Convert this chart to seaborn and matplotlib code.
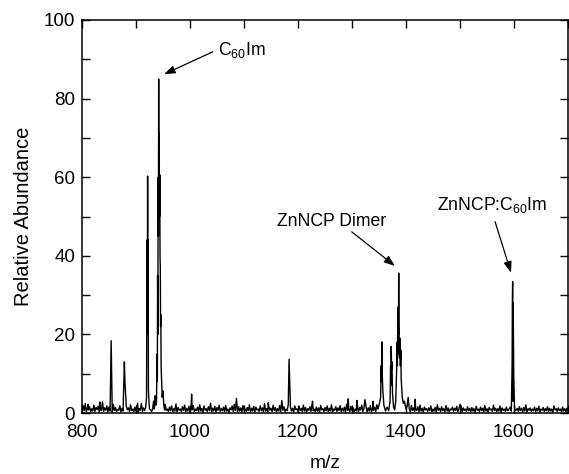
import numpy as np
import pandas as pd
import matplotlib
matplotlib.use("Agg")
import matplotlib.pyplot as plt
from matplotlib.ticker import MultipleLocator
import seaborn as sns

# Background chemical noise, one reading every 2 m/z from 800 to 1700
noise_start = 800
noise_step = 2
noise_abundance = [
    0.3, 1.9, 0.6, 2.4, 0.2, 1.2, 0.8, 1.6, 0.3, 1.1, 0.5, 2.0, 0.4, 1.4, 0.9, 1.7, 0.2, 1.0, 0.6, 2.8,
    0.4, 1.3, 0.7, 1.8, 0.3, 1.5, 0.5, 1.1, 0.2, 2.2, 0.6, 1.4, 0.4, 0.9, 0.7, 1.9, 0.3, 1.2, 0.5, 1.6,
    0.2, 1.7, 0.8, 1.3, 0.4, 2.1, 0.6, 1.0, 0.3, 1.5, 0.5, 1.8, 0.2, 1.1, 0.7, 2.4, 0.4, 1.3, 0.6, 1.0,
    0.3, 1.6, 0.5, 2.0, 0.2, 1.2, 0.8, 1.4, 0.4, 1.9, 0.6, 1.1, 0.3, 1.7, 0.5, 1.3, 0.2, 2.2, 0.7, 1.0,
    0.4, 1.5, 0.6, 1.8, 0.3, 1.1, 0.5, 2.3, 0.2, 1.4, 0.7, 1.0, 0.4, 1.6, 0.6, 2.0, 0.3, 1.2, 0.5, 1.7,
    0.2, 1.3, 0.8, 1.9, 0.4, 1.0, 0.6, 1.5, 0.3, 2.1, 0.5, 1.2, 0.2, 1.8, 0.7, 1.1, 0.4, 1.6, 0.6, 2.5,
    0.3, 1.2, 0.5, 1.7, 0.2, 1.4, 0.7, 2.0, 0.4, 1.1, 0.6, 1.5, 0.3, 1.9, 0.5, 1.0, 0.2, 1.3, 0.8, 1.8,
    0.4, 2.2, 0.6, 1.1, 0.3, 1.6, 0.5, 1.3, 0.2, 1.9, 0.7, 1.0, 0.4, 1.4, 0.6, 2.1, 0.3, 1.2, 0.5, 1.7,
    0.2, 1.5, 0.8, 1.0, 0.4, 1.8, 0.6, 1.3, 0.3, 2.4, 0.5, 1.1, 0.2, 1.6, 0.7, 1.2, 0.4, 2.0, 0.6, 1.4,
    0.3, 1.1, 0.5, 1.9, 0.2, 1.3, 0.7, 1.6, 0.4, 1.0, 0.6, 2.2, 0.3, 1.5, 0.5, 1.2, 0.2, 1.8, 0.8, 1.1,
    0.4, 1.7, 0.6, 1.2, 0.3, 2.0, 0.5, 1.4, 0.2, 1.1, 0.7, 1.6, 0.4, 2.3, 0.6, 1.0, 0.3, 1.5, 0.5, 1.3,
    0.2, 1.9, 0.8, 1.1, 0.4, 1.4, 0.6, 1.8, 0.3, 1.2, 0.5, 2.1, 0.2, 1.0, 0.7, 1.6, 0.4, 1.3, 0.6, 1.9,
    0.3, 1.2, 0.5, 1.5, 0.2, 2.2, 0.7, 1.1, 0.4, 1.7, 0.6, 1.3, 0.3, 1.0, 0.5, 1.8, 0.2, 1.4, 0.8, 2.0,
    0.4, 1.1, 0.6, 1.6, 0.3, 1.3, 0.5, 1.9, 0.2, 1.2, 0.7, 1.5, 0.4, 2.1, 0.6, 1.0, 0.3, 1.7, 0.5, 1.2,
    0.2, 1.4, 0.8, 2.0, 0.4, 1.1, 0.6, 1.5, 0.3, 1.8, 0.5, 1.2, 0.2, 1.6, 0.7, 2.2, 0.4, 1.0, 0.6, 1.3,
    0.3, 1.7, 0.5, 1.1, 0.2, 1.9, 0.7, 1.3, 0.4, 1.0, 0.6, 1.6, 0.3, 2.0, 0.5, 1.2, 0.2, 1.5, 0.8, 1.1,
    0.4, 1.3, 0.6, 1.8, 0.3, 1.0, 0.5, 1.4, 0.2, 2.1, 0.7, 1.2, 0.4, 1.6, 0.6, 1.1, 0.3, 1.9, 0.5, 1.3,
    0.2, 1.0, 0.8, 1.5, 0.4, 1.2, 0.6, 1.7, 0.3, 1.1, 0.5, 1.8, 0.2, 1.3, 0.7, 1.0, 0.4, 1.6, 0.6, 1.2,
    0.3, 1.4, 0.5, 1.1, 0.2, 1.7, 0.7, 1.0, 0.4, 1.5, 0.6, 1.2, 0.3, 1.9, 0.5, 1.1, 0.2, 1.4, 0.8, 1.0,
    0.4, 1.6, 0.6, 1.2, 0.3, 1.1, 0.5, 1.8, 0.2, 1.3, 0.7, 1.0, 0.4, 1.5, 0.6, 1.7, 0.3, 1.2, 0.5, 1.1,
    0.2, 1.3, 0.8, 1.0, 0.4, 1.6, 0.6, 1.2, 0.3, 1.4, 0.5, 1.9, 0.2, 1.1, 0.7, 1.3, 0.4, 1.0, 0.6, 1.5,
    0.3, 1.2, 0.5, 1.7, 0.2, 1.0, 0.7, 1.4, 0.4, 1.1, 0.6, 1.6, 0.3, 1.2, 0.5, 1.0, 0.2, 1.8, 0.8, 1.1,
    0.4, 1.3, 0.6, 1.0, 0.3, 1.5, 0.5, 1.1, 0.2, 1.2, 0.6,
]

# Narrow isolated signals on top of the noise
spike_mz = [811, 833, 854, 878.5, 879.5, 903, 1003, 1086, 1145, 1170, 1183.5,
            1184.5, 1227, 1293, 1309, 1324, 1339, 1404, 1417, 1500, 1562, 1622]
spike_abundance = [2.2, 2.8, 18.4, 13.0, 8.0, 2.5, 4.8, 3.7, 2.6, 3.2, 13.7,
                   9.0, 3.0, 3.6, 3.2, 3.4, 3.0, 4.0, 3.5, 2.2, 2.0, 2.1]

# C60Im cluster
c60im_mz = [916, 918, 919.5, 920, 920.5, 921, 921.5, 922, 922.5, 923, 924, 925,
            927, 929, 931, 932.5, 934, 935.5, 937, 938, 939, 939.5, 940, 940.5,
            941, 941.5, 942, 942.5, 943, 943.5, 944, 944.5, 945, 945.5, 946,
            946.5, 947.5, 948.5, 950, 951.5, 953]
c60im_abundance = [0.6, 1.5, 4.0, 28.0, 44.0, 20.0, 60.3, 28.0, 44.0, 6.0, 3.0,
                   1.0, 0.8, 0.4, 1.2, 3.0, 1.0, 4.4, 2.0, 3.0, 15.0, 8.0, 35.0,
                   20.0, 60.0, 45.0, 85.0, 55.0, 71.2, 50.0, 60.6, 40.0, 37.0,
                   22.0, 25.0, 12.0, 8.0, 4.0, 5.6, 2.0, 0.8]

# ZnNCP dimer cluster
dimer_mz = [1348, 1351, 1353, 1354, 1354.5, 1355, 1355.5, 1356, 1357, 1359,
            1362, 1365, 1368, 1370.5, 1371.5, 1372, 1372.5, 1373.5, 1374,
            1375, 1377, 1379, 1381, 1382.5, 1383.5, 1384, 1384.5, 1385, 1385.5,
            1386, 1386.5, 1387, 1388, 1389, 1389.5, 1390.5, 1391, 1393, 1395,
            1397, 1400]
dimer_abundance = [1.0, 2.5, 4.0, 12.0, 8.0, 15.0, 18.1, 10.0, 6.0, 2.0, 0.5,
                   1.5, 0.6, 3.0, 12.0, 7.0, 16.9, 11.0, 13.0, 5.0, 1.5, 0.8,
                   3.0, 10.0, 18.0, 12.0, 20.0, 15.0, 27.0, 20.0, 35.6, 22.0,
                   14.0, 19.0, 12.0, 16.0, 9.0, 4.0, 2.5, 3.0, 1.0]

# ZnNCP:C60Im complex
complex_mz = [1590, 1593, 1595, 1596.5, 1597, 1597.5, 1598, 1598.5, 1599,
              1599.5, 1601, 1603, 1606]
complex_abundance = [0.8, 1.5, 0.5, 12.0, 28.0, 33.4, 3.0, 28.0, 20.0, 10.0,
                     1.0, 0.6, 1.2]

# Peak labels: text, arrow tip (m/z, abundance), arrow tail, text anchor
label_text = ["C$_{\\mathrm{60}}$Im", "ZnNCP Dimer", "ZnNCP:C$_{\\mathrm{60}}$Im"]
label_tip = [(951.9, 86.2), (1379.7, 37.4), (1594.5, 35.7)]
label_tail = [(1042, 91.9), (1299.5, 46.1), (1564.9, 48.7)]
label_pos = [(1052, 91.1), (1162, 47.6), (1457, 51.7)]

# ---------------------------------------------------------------------------
noise_mz = noise_start + noise_step * np.arange(len(noise_abundance))
clusters = [(c60im_mz, c60im_abundance), (dimer_mz, dimer_abundance),
            (complex_mz, complex_abundance)]

keep = np.ones(len(noise_mz), dtype=bool)
for mz, _ in clusters:
    keep &= ~((noise_mz >= min(mz)) & (noise_mz <= max(mz)))
for mz in spike_mz:
    keep &= np.abs(noise_mz - mz) > 0.6

all_mz = np.concatenate([noise_mz[keep], spike_mz] + [c[0] for c in clusters])
all_ab = np.concatenate([np.asarray(noise_abundance)[keep], spike_abundance]
                        + [c[1] for c in clusters])
spectrum = pd.DataFrame({"mz": all_mz, "abundance": all_ab}).sort_values("mz")

sns.set_theme(style="ticks")
plt.rcParams["font.family"] = ["Liberation Sans", "DejaVu Sans"]
plt.rcParams["mathtext.fontset"] = "custom"
plt.rcParams["mathtext.rm"] = "Liberation Sans"
plt.rcParams["mathtext.it"] = "Liberation Sans:italic"

fig = plt.figure(figsize=(5.69, 4.74), dpi=100)
ax = fig.add_axes([82 / 569, 1 - 413 / 474, 486 / 569, 393 / 474])

sns.lineplot(data=spectrum, x="mz", y="abundance", estimator=None, sort=True,
             color="black", linewidth=1.0, ax=ax)

ax.set_xlim(800, 1700)
ax.set_ylim(0, 100)
ax.xaxis.set_major_locator(MultipleLocator(200))
ax.xaxis.set_minor_locator(MultipleLocator(100))
ax.yaxis.set_major_locator(MultipleLocator(20))
ax.yaxis.set_minor_locator(MultipleLocator(10))
ax.tick_params(which="both", direction="in", top=True, right=True,
               length=5.5, width=1.0, color="black")
ax.tick_params(which="major", labelsize=13.5, labelcolor="black")
ax.tick_params(axis="x", which="major", pad=8)
ax.tick_params(axis="y", which="major", pad=5)
for side in ax.spines.values():
    side.set_visible(True)
    side.set_linewidth(1.1)
    side.set_color("black")

ax.set_xlabel("m/z", fontsize=13.8, labelpad=10, color="black")
ax.set_ylabel("Relative Abundance", fontsize=14.5, labelpad=8, color="black")

for text, tip, tail, pos in zip(label_text, label_tip, label_tail, label_pos):
    ax.annotate("", xy=tip, xytext=tail,
                arrowprops=dict(arrowstyle="-|>,head_length=0.55,head_width=0.2",
                                color="black", lw=0.9, shrinkA=0, shrinkB=0))
    ax.text(pos[0], pos[1], text, fontsize=12.7, ha="left", va="baseline",
            color="black")

fig.savefig("out.png", dpi=100)
